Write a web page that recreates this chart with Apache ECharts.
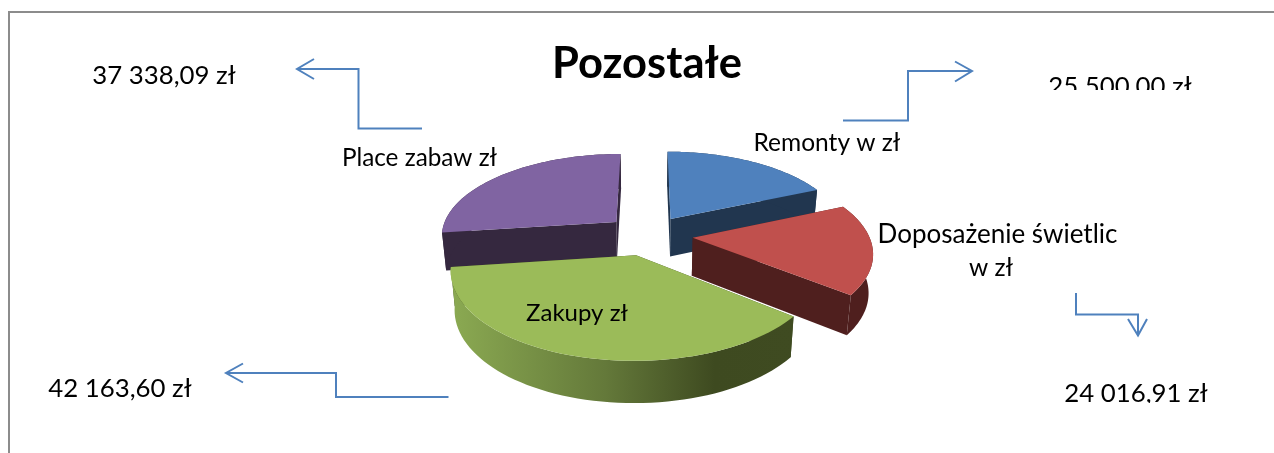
<!DOCTYPE html>
<html>
<head>
<meta charset="utf-8">
<style>html,body{margin:0;padding:0;background:#fff}#c{width:1274px;height:453px}</style>
<script src="https://cdn.jsdelivr.net/npm/echarts@6/dist/echarts.min.js"></script>
</head>
<body>
<div id="c"></div>
<script>
// Slice names and printed amounts (the amounts are separate call-outs in the reference).
var categories = ['Remonty w zł', 'Doposażenie świetlic', 'Zakupy zł', 'Place zabaw zł'];
var amountLabels = ['25 500,00 zł', '24 016,91 zł', '42 163,60 zł', '37 338,09 zł'];
// Slice shares in percent.
var sliceShares = [18.5, 17.2, 37.2, 27.1];
var chartTitle = 'Pozostałe';

var topColors = ['#4F81BD', '#C0504D', '#9BBB59', '#8064A2'];
var sideColors = ['#21364F', '#4F1F1E', '#3F4B21', '#35283F'];
var wallColors = ['#21364F', '#4F1F1E',
  {type:'linear',x:0,y:0,x2:1,y2:0,colorStops:[
    {offset:0,color:'#8BAA52'},{offset:0.45,color:'#64793A'},{offset:0.77,color:'#3E4A20'},{offset:1,color:'#3F4B21'}]},
  '#35283F'];
var paintOrder = [1, 2, 3, 0];
var explodeBy = [0.24, 0.255, 0.245, 0.245];

// Projection of the tilted pie plane
var X0 = 648, Y0 = 235, A = 176, B = 82.3, K = 0.155, DEPTH = 38, BOTTOM_SHRINK = 0.98;
function project(u, v, low) {
  var w = 1 - K * v;
  var x = X0 + A * u / w, y = Y0 + B * v / w;
  if (low) { x = X0 + (x - X0) * BOTTOM_SHRINK; y += DEPTH / Math.sqrt(w); }
  return [x, y];
}

var total = sliceShares.reduce(function (a, b) { return a + b; }, 0);

function renderSlice(params, api) {
  var i = params.dataIndex, before = 0;
  for (var n = 0; n < i; n++) before += sliceShares[n];
  var t0 = before / total * 2 * Math.PI;
  var t1 = t0 + api.value(1) / total * 2 * Math.PI;
  var tm = (t0 + t1) / 2;
  var ou = explodeBy[i] * Math.sin(tm), ov = -explodeBy[i] * Math.cos(tm);
  var arcTop = [], arcLow = [], steps = 60;
  for (var s = 0; s <= steps; s++) {
    var t = t0 + (t1 - t0) * s / steps;
    var u = ou + Math.sin(t), v = ov - Math.cos(t);
    arcTop.push(project(u, v, false));
    arcLow.push(project(u, v, true));
  }
  var apexTop = project(ou, ov, false), apexLow = project(ou, ov, true);
  var z = paintOrder[i] * 10;
  function poly(points, fill, zz) {
    return {type:'polygon', z2:z + zz, shape:{points:points}, style:{fill:fill, stroke:null}, silent:true};
  }
  return {type:'group', children:[
    poly([apexTop, arcTop[0], arcLow[0], apexLow], sideColors[i], 1),
    poly([apexTop, arcTop[steps], arcLow[steps], apexLow], sideColors[i], 2),
    poly(arcTop.concat(arcLow.slice().reverse()), wallColors[i], 3),
    poly([apexTop].concat(arcTop), topColors[i], 4)
  ]};
}

var FONT = 'Lato, "Open Sans", sans-serif', INK = '#000000', ARROW = '#4F81BD';
function label(text, x, y, size, opts) {
  return {type:'text', z:100, x:x, y:y, silent:true, style:Object.assign({
    text:text, fill:INK, font:size + 'px ' + FONT, textAlign:'center', textVerticalAlign:'middle'}, opts || {})};
}
function arrow(line, head) {
  return [
    {type:'polyline', z:90, silent:true, shape:{points:line}, style:{stroke:ARROW, lineWidth:2, fill:null}},
    {type:'polyline', z:90, silent:true, shape:{points:head}, style:{stroke:ARROW, lineWidth:2, fill:null}}
  ];
}
function mask(x, y, w, h) {
  return {type:'rect', z:110, silent:true, shape:{x:x, y:y, width:w, height:h}, style:{fill:'#fff'}};
}

var graphics = [
  {type:'polyline', z:80, silent:true, shape:{points:[[9,453],[9,12],[1274,12]]}, style:{stroke:'#8C8C8C', lineWidth:2, fill:null}},
  label(chartTitle, 647, 64, 43.5, {font:'bold 43.5px ' + FONT}),
  label(categories[0], 827, 143, 24.5),
  label(categories[1], 997.5, 235, 26),
  label('w zł', 991, 268, 24.5),
  label(categories[2], 577, 313, 24),
  label(categories[3], 419.5, 158, 24.3),
  label(amountLabels[0], 1120, 87, 25.8),
  label(amountLabels[1], 1136, 394, 25.8),
  label(amountLabels[2], 120, 389, 25.8),
  label(amountLabels[3], 164, 76, 25.8),
  mask(1040, 90, 165, 16),
  mask(1055, 403, 165, 12)
].concat(
  arrow([[422,128.5],[358.5,128.5],[358.5,69],[297,69]], [[314,59],[297,69],[314,79]]),
  arrow([[843,120.5],[908,120.5],[908,71],[972,71]], [[955,61.5],[972,71],[955,81.5]]),
  arrow([[1076,293],[1076,314.5],[1138,314.5],[1138,335.5]], [[1128,319],[1138,335.5],[1147,319]]),
  arrow([[448.5,397],[336,397],[336,373],[226,373]], [[243,363.5],[226,373],[243,382.5]])
);

var chart = echarts.init(document.getElementById('c'), null, {renderer:'canvas'});
chart.setOption({
  animation:false,
  backgroundColor:'#fff',
  graphic:{elements:graphics},
  series:[{
    type:'custom',
    coordinateSystem:'none',
    silent:true,
    renderItem:renderSlice,
    data:sliceShares.map(function (s, i) { return [categories[i], s]; })
  }]
});
</script>
</body>
</html>
